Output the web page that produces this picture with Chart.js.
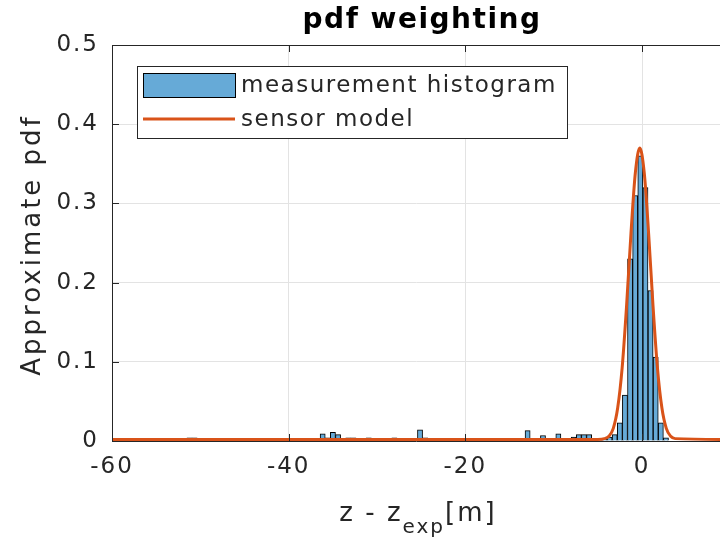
<!DOCTYPE html>
<html>
<head>
<meta charset="utf-8">
<script src="https://cdn.jsdelivr.net/npm/chart.js@4.4.1/dist/chart.umd.min.js"></script>
<style>
  html, body { margin: 0; padding: 0; background: #fff; overflow: hidden; }
  #wrap { width: 720px; height: 540px; }
</style>
</head>
<body>
<div id="wrap"><canvas id="chart" width="720" height="540"></canvas></div>
<script>
  // histogram bins (centre, height)
  const binCenters = [
    -51.23, -50.65,
    -36.15, -35.57, -34.99, -34.41, -33.25, -32.67, -30.93, -28.03, -25.13, -24.55,
    -18.75, -18.17, -16.43, -14.11, -13.53, -12.95, -11.21, -9.47,
    -7.73, -7.15, -6.57, -5.99, -4.83, -4.25, -3.67,
    -3.09, -2.51, -1.93, -1.35, -0.77, -0.19, 0.39, 0.97, 1.55, 2.13, 2.71
  ];
  const binHeights = [
    0.004, 0.004,
    0.009, 0.004, 0.011, 0.008, 0.004, 0.004, 0.004, 0.004, 0.014, 0.004,
    0.003, 0.003, 0.003, 0.003, 0.003, 0.013, 0.007, 0.009,
    0.005, 0.008, 0.008, 0.008, 0.003, 0.003, 0.005,
    0.008, 0.023, 0.058, 0.23, 0.31, 0.36, 0.32, 0.19, 0.106, 0.023, 0.004
  ];

  // sensor model curve
  const modelX = [-60, -5, -4.25, -3.75, -3.25, -2.75, -2.25, -1.75, -1.25, -0.75, -0.25,
                  0.25, 0.75, 1.25, 1.75, 2.25, 2.75, 3.25, 3.75, 10];
  const modelY = [0.002, 0.002, 0.003, 0.006, 0.016, 0.042, 0.092, 0.17, 0.262, 0.339, 0.37,
                  0.339, 0.262, 0.17, 0.092, 0.042, 0.016, 0.006, 0.003, 0.002];

  const xTicks = [-60, -40, -20, 0];
  const yTicks = [0, 0.1, 0.2, 0.3, 0.4, 0.5];
  const xMin = -60, xMax = 8.83;

  const ink = "#262626";
  const gridCol = "#e3e3e3";
  const barBlue = "#66aad7";
  const lineOrange = "#d95319";
  const font = "'DejaVu Sans', sans-serif";

  // the reference text is rendered a bit wider than DejaVu's metrics
  const spacing = {
    id: "spacing",
    beforeUpdate(chart) { chart.ctx.letterSpacing = "2px"; },
    beforeDraw(chart) { chart.ctx.letterSpacing = "2px"; },
  };

  // titles, inward ticks, top border, legend
  const decor = {
    id: "decor",
    afterDraw(chart) {
      const { ctx, chartArea: a, scales } = chart;
      ctx.save();
      ctx.strokeStyle = ink;
      ctx.lineWidth = 1;
      ctx.beginPath();
      ctx.moveTo(a.left, a.top + 0.5);
      ctx.lineTo(a.right, a.top + 0.5);
      xTicks.forEach((v) => {
        const x = Math.round(scales.x.getPixelForValue(v)) + 0.5;
        ctx.moveTo(x, a.bottom); ctx.lineTo(x, a.bottom - 7);
        ctx.moveTo(x, a.top); ctx.lineTo(x, a.top + 7);
      });
      yTicks.forEach((v) => {
        const y = Math.round(scales.y.getPixelForValue(v)) + 0.5;
        ctx.moveTo(a.left, y); ctx.lineTo(a.left + 7, y);
      });
      ctx.stroke();

      ctx.fillStyle = "#000";
      ctx.letterSpacing = "1.5px";
      ctx.font = "bold 28px " + font;
      ctx.textAlign = "center";
      ctx.textBaseline = "alphabetic";
      ctx.fillText("pdf weighting", 422, 28);

      ctx.fillStyle = ink;
      ctx.letterSpacing = "3px";
      ctx.save();
      ctx.translate(40, 245);
      ctx.rotate(-Math.PI / 2);
      ctx.font = "26px " + font;
      ctx.fillText("Approximate pdf", 0, 0);
      ctx.restore();

      // x label with subscript
      ctx.textAlign = "left";
      ctx.letterSpacing = "2px";
      const mainF = "26px " + font, subF = "20px " + font;
      ctx.font = mainF; const w1 = ctx.measureText("z - z").width;
      const w3 = ctx.measureText("[m]").width;
      ctx.font = subF; const w2 = ctx.measureText("exp").width;
      const x0 = 418 - (w1 + w2 + w3) / 2;
      ctx.font = mainF; ctx.fillText("z - z", x0, 521);
      ctx.font = subF; ctx.fillText("exp", x0 + w1, 533);
      ctx.font = mainF; ctx.fillText("[m]", x0 + w1 + w2, 521);

      // legend
      const lx = 137.5, ly = 66.5, lw = 430, lh = 72;
      ctx.fillStyle = "#fff";
      ctx.fillRect(lx, ly, lw, lh);
      ctx.strokeStyle = ink;
      ctx.lineWidth = 1;
      ctx.strokeRect(lx, ly, lw, lh);
      ctx.fillStyle = barBlue;
      ctx.fillRect(143.5, 73.5, 92, 24);
      ctx.strokeStyle = "#000";
      ctx.strokeRect(143.5, 73.5, 92, 24);
      ctx.strokeStyle = lineOrange;
      ctx.lineWidth = 3;
      ctx.beginPath();
      ctx.moveTo(143, 119); ctx.lineTo(235, 119);
      ctx.stroke();
      ctx.fillStyle = ink;
      ctx.letterSpacing = "1.5px";
      ctx.font = "23px " + font;
      ctx.textBaseline = "middle";
      ctx.fillText(chart.data.datasets[1].label, 241, 86);
      ctx.fillText(chart.data.datasets[0].label, 241, 120);
      ctx.restore();
    }
  };

  new Chart(document.getElementById("chart"), {
    type: "bar",
    data: {
      datasets: [
        {
          type: "line",
          label: "sensor model",
          data: modelX.map((x, i) => ({ x, y: modelY[i] })),
          borderColor: lineOrange,
          borderWidth: 3,
          pointRadius: 0,
          cubicInterpolationMode: "monotone",
          fill: false,
          order: 0,
        },
        {
          type: "bar",
          label: "measurement histogram",
          data: binCenters.map((x, i) => ({ x, y: binHeights[i] })),
          backgroundColor: barBlue,
          borderColor: "#000",
          borderWidth: 1,
          barPercentage: 1,
          categoryPercentage: 1,
          order: 1,
        },
      ],
    },
    options: {
      responsive: false,
      animation: false,
      layout: { padding: { top: 45, left: 0, right: 0, bottom: 0 } },
      plugins: { legend: { display: false }, tooltip: { enabled: false } },
      scales: {
        x: {
          type: "linear",
          min: xMin,
          max: xMax,
          offset: false,
          afterBuildTicks: (s) => { s.ticks = xTicks.map((v) => ({ value: v })); },
          afterFit: (s) => { s.height = 99; },
          grid: { color: gridCol, drawTicks: false, offset: false },
          border: { color: ink, width: 1 },
          ticks: { color: ink, padding: 12, font: { family: font, size: 23 } },
        },
        y: {
          min: 0,
          max: 0.5,
          afterBuildTicks: (s) => { s.ticks = yTicks.map((v) => ({ value: v })); },
          afterFit: (s) => { s.width = 112; },
          grid: { color: gridCol, drawTicks: false },
          border: { color: ink, width: 1 },
          ticks: { color: ink, padding: 13, font: { family: font, size: 23 } },
        },
      },
    },
    plugins: [spacing, decor],
  });
</script>
</body>
</html>
